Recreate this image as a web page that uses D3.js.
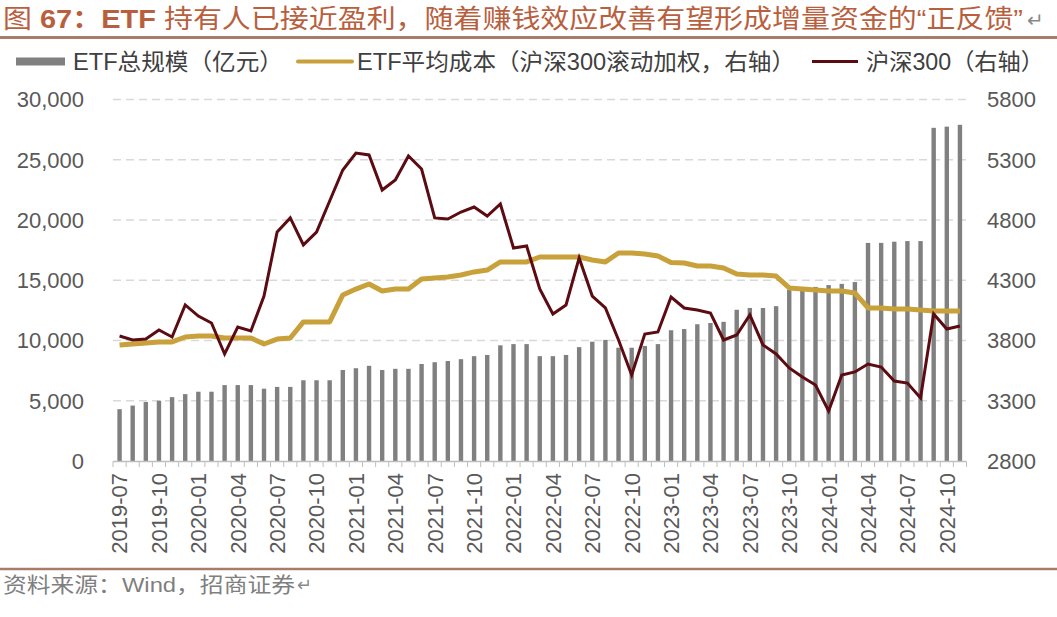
<!DOCTYPE html>
<html><head><meta charset="utf-8">
<script src="https://cdn.jsdelivr.net/npm/d3@7"></script>
<style>
html,body{margin:0;padding:0;background:#fff;}
svg{display:block;}
text{font-family:"Liberation Sans",Arial,"Noto Sans CJK SC",sans-serif;}
</style></head>
<body>
<svg id="chart" width="1057" height="617"></svg>
<script>
// ---- data ----
const months = [];
(function(){ for (let y=2019,m=7; y<2024 || (y===2024 && m<=11); ){ months.push(y+"-"+String(m).padStart(2,"0")); m++; if(m>12){m=1;y++;} } })();

const etfScale = [4300,4600,4900,5000,5300,5550,5750,5750,6300,6300,6300,6000,6150,6150,6700,6700,6700,7550,7700,7900,7550,7650,
  7650,8050,8200,8300,8450,8700,8800,9600,9700,9700,8700,8700,8800,9450,9900,10050,9400,9400,9550,9700,
  10850,10950,11350,11450,11550,12550,12700,12700,12850,14200,14200,14450,14600,14700,14850,18100,18100,18200,18250,18250,27650,27750,27900];

const etfCost = [3763,3771,3779,3788,3788,3829,3837,3837,3821,3821,3821,3771,3812,3821,3954,3954,3954,4178,4227,4269,4211,4227,
  4227,4310,4319,4327,4344,4369,4385,4452,4452,4452,4493,4493,4493,4493,4468,4452,4526,4526,4518,4501,
  4447,4443,4418,4418,4402,4352,4344,4344,4335,4236,4227,4219,4211,4211,4194,4070,4070,4061,4061,4053,4045,4045,4045];

const hs300 = [3837,3804,3812,3887,3829,4095,4003,3945,3688,3912,3879,4169,4700,4817,4593,4700,4958,5215,5356,5340,5049,5132,
  5331,5223,4817,4808,4866,4908,4833,4933,4568,4584,4227,4020,4095,4485,4169,4070,3804,3514,3854,3871,
  4161,4070,4053,4028,3804,3846,4012,3763,3688,3572,3497,3431,3215,3514,3539,3605,3580,3464,3447,3323,4020,3895,3920];

const leftTicks = [0,5000,10000,15000,20000,25000,30000];
const rightTicks = [2800,3300,3800,4300,4800,5300,5800];
const seriesNames = ["ETF总规模（亿元）","ETF平均成本（沪深300滚动加权，右轴）","沪深300（右轴）"];
const titleParts = [["图 ",false],["67：",true],["ETF",true],[" 持有人已接近盈利，随着赚钱效应改善有望形成增量资金的“正反馈”",false]];
const sourceText = "资料来源：Wind，招商证券";

// ---- drawing ----
const svg = d3.select("#chart");
const C = {bar:"#808080", cost:"#C9A13B", hs:"#5C0B12", axisText:"#595959", grid:"#D9D9D9", brown:"#A87B6A", title:"#B8603E"};

const x = d3.scaleBand().domain(months).range([113, 966.5]).padding(0);
const yL = d3.scaleLinear().domain([0,30000]).range([461, 99.5]);
const yR = d3.scaleLinear().domain([2800,5800]).range([461, 99.5]);
const bw = x.bandwidth();
const barW = 4.4;
const cx = d => x(d) + bw/2;

// title
const t = svg.append("text").attr("x",3).attr("y",28).attr("fill",C.title).style("font-size","26px")
  .attr("textLength",1020).attr("lengthAdjust","spacingAndGlyphs");
titleParts.forEach(([s,b]) => t.append("tspan").text(s).style("font-weight", b?"bold":"normal"));
svg.append("text").attr("x",1027).attr("y",27).text("↵").style("font-size","20px").attr("fill","#888");
svg.append("line").attr("x1",0).attr("x2",1057).attr("y1",37.5).attr("y2",37.5).attr("stroke",C.brown).attr("stroke-width",3);

// legend
const lg = svg.append("g").style("font-size","23px");
const legTxt = (xx, w, s) => lg.append("text").attr("x",xx).attr("y",70).text(s).attr("fill","#404040")
  .attr("textLength",w).attr("lengthAdjust","spacingAndGlyphs");
lg.append("rect").attr("x",16).attr("y",57.5).attr("width",49).attr("height",8).attr("fill",C.bar);
legTxt(73, 210, seriesNames[0]);
lg.append("line").attr("x1",298).attr("x2",352).attr("y1",61.5).attr("y2",61.5).attr("stroke",C.cost).attr("stroke-width",4).attr("stroke-linecap","round");
legTxt(357, 438, seriesNames[1]);
lg.append("line").attr("x1",812).attr("x2",858).attr("y1",61.5).attr("y2",61.5).attr("stroke",C.hs).attr("stroke-width",3);
legTxt(866, 178, seriesNames[2]);

// gridlines
svg.append("g").selectAll("line").data(leftTicks.filter(d=>d>0)).join("line")
  .attr("x1",113).attr("x2",966.5).attr("y1",d=>yL(d)).attr("y2",d=>yL(d))
  .attr("stroke",C.grid).attr("stroke-width",1.3).attr("stroke-dasharray","8,5");

// left axis labels
svg.append("g").selectAll("text").data(leftTicks).join("text")
  .attr("x",84).attr("y",d=>yL(d)).attr("dy","0.36em").attr("text-anchor","end")
  .style("font-size","22px").attr("fill",C.axisText).text(d3.format(","));
// right axis labels
svg.append("g").selectAll("text").data(rightTicks).join("text")
  .attr("x",987).attr("y",d=>yR(d)).attr("dy","0.36em").attr("text-anchor","start")
  .style("font-size","22px").attr("fill",C.axisText).text(d=>d);

// bars
svg.append("g").selectAll("rect").data(months).join("rect")
  .attr("x",(d)=>cx(d)-barW/2).attr("width",barW)
  .attr("y",(d,i)=>yL(etfScale[i])).attr("height",(d,i)=>yL(0)-yL(etfScale[i]))
  .attr("fill",C.bar);

// x axis
const xa = svg.append("g");
xa.append("line").attr("x1",113).attr("x2",966.5).attr("y1",461.5).attr("y2",461.5).attr("stroke","#BFBFBF").attr("stroke-width",1.3);
const bounds = months.map(d=>x(d)).concat([966.5]);
xa.selectAll("line.tk").data(bounds).join("line").attr("class","tk")
  .attr("x1",d=>d).attr("x2",d=>d).attr("y1",461.5).attr("y2",467).attr("stroke","#BFBFBF").attr("stroke-width",1);
xa.selectAll("text").data(months.filter((d,i)=>i%3===0)).join("text")
  .attr("transform",d=>`translate(${cx(d)},473) rotate(-90)`)
  .attr("dy","0.36em").attr("text-anchor","end").style("font-size","22px").attr("fill",C.axisText).text(d=>d);

// lines
const lineFn = d3.line().x((d,i)=>cx(months[i])).y(d=>yR(d));
svg.append("path").datum(etfCost).attr("d",lineFn).attr("fill","none").attr("stroke",C.cost).attr("stroke-width",5).attr("stroke-linejoin","round");
svg.append("path").datum(hs300).attr("d",lineFn).attr("fill","none").attr("stroke",C.hs).attr("stroke-width",3).attr("stroke-linejoin","miter");

// bottom
svg.append("line").attr("x1",0).attr("x2",1057).attr("y1",569).attr("y2",569).attr("stroke",C.brown).attr("stroke-width",2.5);
svg.append("text").attr("x",3).attr("y",592).style("font-size","21px").attr("fill","#7F7F7F")
  .attr("textLength",292).attr("lengthAdjust","spacingAndGlyphs").text(sourceText);
svg.append("text").attr("x",297).attr("y",591).style("font-size","18px").attr("fill","#8a8a8a").text("↵");
</script>
</body></html>
